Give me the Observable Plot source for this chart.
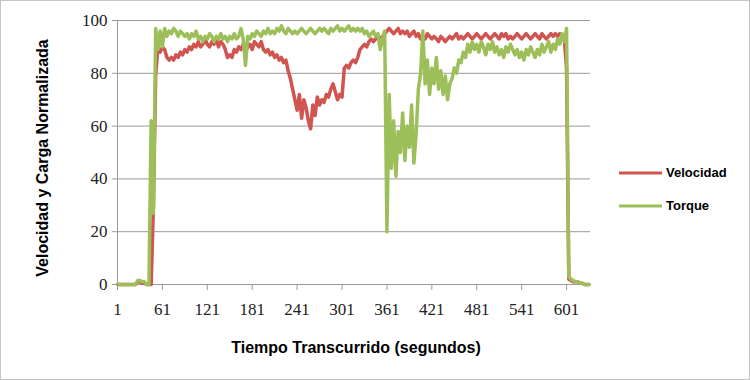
<!DOCTYPE html>
<html>
<head>
<meta charset="utf-8">
<script src="https://cdn.jsdelivr.net/npm/d3@7"></script>
<script src="https://cdn.jsdelivr.net/npm/@observablehq/plot@0.6"></script>
<style>
  body { margin: 0; background: #fff; }
  #chart svg { display: block; }
</style>
</head>
<body>
<div id="chart"></div>
<script>
// ---- data ----
const firstSecond = 1;      // first sample (seconds)
const sampleStep = 3;       // seconds between samples
const xTicks = [1, 61, 121, 181, 241, 301, 361, 421, 481, 541, 601];
const yTicks = [0, 20, 40, 60, 80, 100];
const seriesNames = ["Velocidad", "Torque"];
const seriesColors = ["#D05450", "#9DBF5A"];

const velocidad = [
  0,0,0,0,0,0,0,0,0,1,
  1,0.5,0.5,0,0,0,30,79,90,88,
  90,89,86,85,86,85,87,86,88,87,
  89,88,90,89,91,90,92,90,91,93,
  91,90,92,91,93,90,92,91,89,86,
  87,86,89,88,90,89,91,88,90,91,
  89,92,91,90,92,89,88,89,87,88,
  86,87,85,86,84,85,81,78,74,70,
  66,72,63,70,67,62,59,68,64,71,
  68,70,69,72,71,74,76,73,70,72,
  71,82,83,82,84,85,84,86,89,90,
  91,90,92,93,92,93,94,93,94,95,
  96,97,96,95,96,97,95,96,95,96,
  94,95,96,94,95,93,94,93,95,94,
  93,94,93,92,94,93,92,93,94,93,
  94,95,93,94,93,94,95,94,93,94,
  95,94,93,94,95,94,93,94,95,94,
  93,95,94,95,93,94,93,94,95,94,
  93,94,95,94,93,94,95,94,93,95,
  94,93,94,95,94,95,94,95,94,93,
  82,2,1.5,1,1,1,0.5,0.5,0,0,0
];

const torque = [
  0,0,0,0,0,0,0,0,0,1.5,
  1.5,1,1,0,0,62,27,97,89,96,
  90,97,94,96,95,97,96,94,96,95,
  94,95,93,95,94,96,93,94,92,94,
  93,95,94,92,94,93,95,93,94,92,
  94,93,95,93,94,97,93,83,94,93,
  95,94,96,95,94,96,95,97,95,96,
  95,97,96,98,96,95,97,96,95,96,
  95,96,97,96,95,96,97,96,95,96,
  97,96,97,96,95,97,96,97,98,96,
  97,96,97,98,96,97,96,97,96,97,
  95,96,94,95,96,94,95,89,93,96,
  20,72,44,62,41,58,50,65,47,60,
  52,68,46,57,74,80,96,76,85,72,
  82,76,86,74,81,72,79,70,76,78,
  82,80,85,84,88,86,91,88,92,89,
  91,88,92,90,87,91,89,92,88,90,
  87,89,86,90,88,91,89,87,89,86,
  88,85,89,87,90,88,86,89,87,91,
  88,90,92,88,91,89,93,91,95,92,
  97,3,2,1.5,1,1,0.5,0.5,0,0,0
];

const xTitle = "Tiempo Transcurrido (segundos)";
const yTitle = "Velocidad y Carga Normalizada";

// ---- build table ----
const rows = [];
[velocidad, torque].forEach((arr, k) => {
  arr.forEach((v, i) => rows.push({ t: firstSecond + i * sampleStep, value: v, serie: seriesNames[k] }));
});

const W = 750, H = 380;
const gridColor = "#9a9a9a";

const chart = Plot.plot({
  width: W,
  height: H,
  marginLeft: 117,
  marginRight: 160,
  marginTop: 20,
  marginBottom: 96,
  style: { fontFamily: "Liberation Sans, Arial, sans-serif", background: "#fff", overflow: "visible" },
  x: { type: "linear", domain: [1, 633] },
  y: { domain: [0, 100] },
  color: { domain: seriesNames, range: seriesColors },
  marks: [
    Plot.ruleY(yTicks, { stroke: gridColor, strokeWidth: 1 }),
    Plot.ruleX([1], { stroke: gridColor, strokeWidth: 1 }),
    Plot.line(rows.filter(d => d.serie === seriesNames[0]), {
      x: "t", y: "value", stroke: "serie", strokeWidth: 3.5, strokeLinejoin: "round"
    }),
    Plot.line(rows.filter(d => d.serie === seriesNames[1]), {
      x: "t", y: "value", stroke: "serie", strokeWidth: 3.5, strokeLinejoin: "round"
    }),
    Plot.axisX({
      ticks: xTicks, tickSize: 6, tickPadding: 12, label: null,
      fontSize: 17, fontFamily: "Liberation Serif, Times New Roman, serif",
      stroke: gridColor, fill: "#222", tickFormat: d => String(d)
    }),
    Plot.axisY({
      ticks: yTicks, tickSize: 5, tickPadding: 5, label: null,
      fontSize: 17, fontFamily: "Liberation Serif, Times New Roman, serif",
      stroke: gridColor, fill: "#222"
    })
  ]
});

document.getElementById("chart").appendChild(chart);

// ---- border, titles, legend ----
const svg = d3.select(chart);
svg.append("rect")
  .attr("x", 0.5).attr("y", 0.5).attr("width", W - 1).attr("height", H - 1)
  .attr("fill", "none").attr("stroke", "#c4c4c4");

svg.append("text")
  .attr("x", 356).attr("y", 353)
  .attr("text-anchor", "middle")
  .attr("font-family", "Liberation Sans, Arial, sans-serif")
  .attr("font-weight", "bold").attr("font-size", 16).attr("fill", "#000")
  .text(xTitle);

svg.append("text")
  .attr("transform", "translate(48,158) rotate(-90)")
  .attr("text-anchor", "middle")
  .attr("font-family", "Liberation Sans, Arial, sans-serif")
  .attr("font-weight", "bold").attr("font-size", 16).attr("fill", "#000")
  .text(yTitle);

const legendY = [173, 206];
seriesNames.forEach((name, k) => {
  svg.append("line")
    .attr("x1", 619).attr("x2", 662)
    .attr("y1", legendY[k]).attr("y2", legendY[k])
    .attr("stroke", seriesColors[k]).attr("stroke-width", 3);
  svg.append("text")
    .attr("x", 666).attr("y", legendY[k] - 1)
    .attr("dy", "0.35em")
    .attr("text-anchor", "start")
    .attr("font-family", "Liberation Sans, Arial, sans-serif")
    .attr("font-weight", "bold").attr("font-size", 13).attr("fill", "#000")
    .text(name);
});
</script>
</body>
</html>
